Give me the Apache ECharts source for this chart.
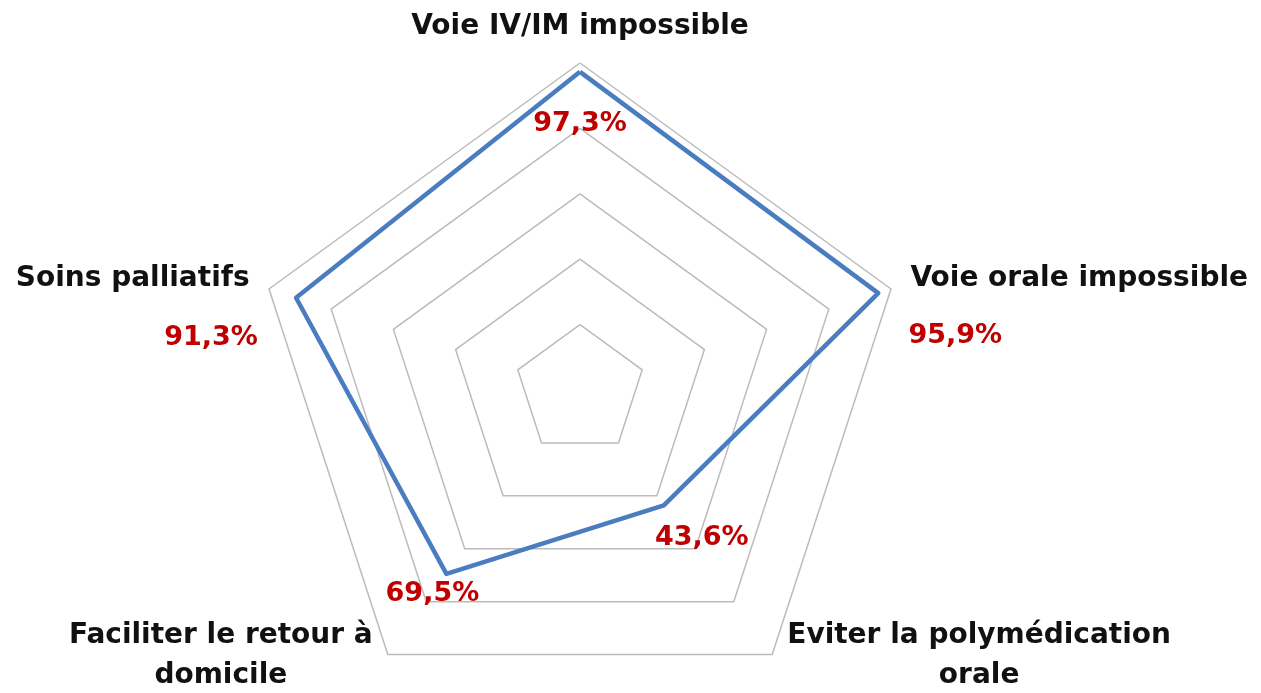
<!DOCTYPE html>
<html>
<head>
<meta charset="utf-8">
<script src="https://cdn.jsdelivr.net/npm/echarts@6/dist/echarts.min.js"></script>
<style>
  html, body { margin: 0; padding: 0; background: #fff; }
  #main { width: 1261px; height: 693px; }
</style>
</head>
<body>
<div id="main"></div>
<script>
// indicateurs, dans l'ordre d'echarts (sens anti-horaire depuis le haut)
const indicatorNames = [
  'Voie IV/IM impossible',
  'Soins palliatifs',
  'Faciliter le retour à\ndomicile',
  'Eviter la polymédication\norale',
  'Voie orale impossible'
];
const values = [97.3, 91.3, 69.5, 43.6, 95.9];
const maxValue = 100;

// decalage des etiquettes par sommet [dx, dy]
const labelShift = [[0, 52], [-85, 40], [-14, 20], [38, 33], [77, 43]];
const nameKeys = ['n0', 'n1', 'n2', 'n3', 'n4'];

function pad(dx, dy) {
  // padding [haut, droite, bas, gauche] pour deplacer le texte centre
  return [dy > 0 ? 2 * dy : 0, dx < 0 ? -2 * dx : 0, dy < 0 ? -2 * dy : 0, dx > 0 ? 2 * dx : 0];
}

const labelRich = {};
labelShift.forEach(function (s, i) {
  labelRich['v' + i] = {
    color: '#c00000',
    fontFamily: 'DejaVu Sans',
    fontWeight: 'bold',
    fontSize: 27,
    padding: pad(s[0], s[1])
  };
});

const nameBase = {
  color: '#111',
  fontFamily: 'DejaVu Sans',
  fontWeight: 'bold',
  fontSize: 28,
  lineHeight: 40,
  align: 'center'
};
const nameRich = {
  n0: Object.assign({}, nameBase, { padding: [0, 0, 8, 0] }),
  n1: Object.assign({}, nameBase, { padding: [0, 8, 14, 0] }),
  n2: Object.assign({}, nameBase, { padding: [0, 8, 18, 0] }),
  n3: Object.assign({}, nameBase, { padding: [0, 0, 18, 8] }),
  n4: Object.assign({}, nameBase, { padding: [0, 0, 14, 8] })
};

let myChart = echarts.init(document.getElementById('main'));
let option = {
  animation: false,
  radar: {
    center: [580, 390],
    radius: 327,
    shape: 'polygon',
    splitNumber: 5,
    nameGap: 12,
    indicator: indicatorNames.map(function (n) { return { name: n, max: maxValue }; }),
    axisName: {
      formatter: function (name) {
        let i = indicatorNames.indexOf(name);
        return name.split('\n').map(function (l) {
          return '{' + nameKeys[i] + '|' + l + '}';
        }).join('\n');
      },
      rich: nameRich
    },
    axisLine: { show: false },
    splitArea: { show: false },
    splitLine: { lineStyle: { color: '#bbbbbb', width: 1.5 } }
  },
  series: [{
    type: 'radar',
    symbol: 'circle',
    symbolSize: 0,
    lineStyle: { color: '#4a7dbf', width: 4.5 },
    itemStyle: { color: '#4a7dbf' },
    label: {
      show: true,
      position: 'inside',
      formatter: function (p) {
        let i = p.dimensionIndex;
        return '{v' + i + '|' + values[i].toFixed(1).replace('.', ',') + '%}';
      },
      rich: labelRich
    },
    data: [{ value: values, name: 'Indications' }]
  }]
};
myChart.setOption(option);
</script>
</body>
</html>
